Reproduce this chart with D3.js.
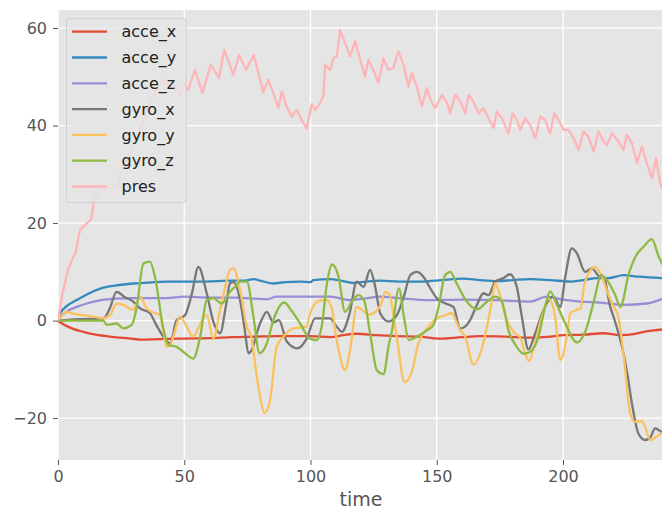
<!DOCTYPE html>
<html><head><meta charset="utf-8">
<script src="https://cdn.jsdelivr.net/npm/d3@7"></script>
<style>body{margin:0;background:#fff}svg{display:block;font-family:"DejaVu Sans",sans-serif}</style>
</head><body><svg id="c" width="662" height="512"></svg>
<script>
const seriesNames = ["acce_x","acce_y","acce_z","gyro_x","gyro_y","gyro_z","pres"];
const seriesColors = ["#E24A33","#348ABD","#988ED5","#777777","#FBC15E","#8EBA42","#FFB5B8"];
const xTicks = [0,50,100,150,200];
const yTicks = [-20,0,20,40,60];
const xLabel = "time";

const acceX = [[0,-0.1],[3,-1],[6,-1.7],[10,-2.3],[15,-2.9],[20.6,-3.3],[27,-3.6],[32.5,-3.9],[40,-3.8],[49.6,-3.7],[60,-3.6],[69,-3.4],[78,-3.3],[86.6,-3.2],[100,-3.2],[107.8,-3.4],[113,-3],[118.3,-2.7],[126,-3],[134,-3.2],[143,-3.3],[151.3,-3.7],[160,-3.4],[167,-3.2],[177,-3.3],[187,-3.5],[195,-3.3],[200.2,-3],[208,-2.9],[216,-2.6],[222.7,-3],[228,-2.8],[232,-2.3],[236,-2],[240,-1.8]];
const acceY = [[0,1],[2,2.3],[4,3.2],[7.4,4.2],[12,5.5],[17,6.6],[23,7.2],[29.8,7.6],[36,7.8],[43,8],[56.3,8],[69.5,8.2],[74,8.2],[77.4,8.5],[80,8.2],[85.3,7.6],[90,7.9],[95.9,8],[100,7.9],[101.2,8.3],[107.8,8.5],[112,8.2],[117,7.7],[122,8],[127.6,8.2],[135,8],[144.7,8],[152,8.3],[160.6,8.6],[167,8.3],[173.8,8.1],[180,8.3],[187,8.5],[195,8.3],[202.9,8],[208,8.3],[213.4,8.7],[218,8.7],[224,9.3],[230,9],[240,8.7]];
const acceZ = [[0,0.5],[2,1.3],[4,2],[7.4,2.8],[12,3.6],[17,4.2],[23,4.5],[29.8,4.6],[43,4.6],[50,4.9],[60,4.7],[70,4.7],[78,4.5],[82.7,4.35],[86.6,4.9],[100,4.9],[107.8,4.9],[115.7,4.2],[121,4.5],[127.6,4.9],[135,4.6],[147.4,4.2],[160,4.3],[173.8,4.2],[187,3.9],[193.6,4.9],[200,4.3],[206.8,3.9],[215,3.7],[224,3.2],[233,3.5],[240,4.6]];
const gyroX = [[0,0],[5,0.2],[10,0.3],[18,0.45],[20.5,2.5],[23.2,5.9],[26.5,4.8],[29.8,3.9],[32.5,2.5],[36.4,1.5],[39,-1],[41.7,-3.3],[44.4,-4.7],[47,0.1],[50.3,1.1],[53,5.5],[55.6,11],[58.9,5.6],[61.5,-0.2],[64.2,-2.6],[66.5,3],[68.1,7.6],[69.5,7.9],[72.1,4.2],[74,-2],[75.4,-6.7],[76.8,-6],[78.7,-2.6],[80.5,0],[82.7,1.8],[85.3,-0.4],[87.5,0.1],[90.6,-4.3],[94.8,-5.7],[98.5,-3.7],[101.8,0.45],[107.8,0.45],[110,-1],[112.5,-2.3],[115.5,1.5],[118.3,8],[121,6.9],[123.6,10.4],[125.6,7],[127.6,1.5],[130.9,-0.2],[134.1,1],[137,5],[139.5,9.3],[142.1,10],[144.7,9],[147,7],[150,4.6],[153.5,3.5],[156.6,2.8],[159.3,-1.6],[161.9,-0.9],[163.2,0.1],[165.9,3.2],[168.5,5.6],[170.5,5.2],[173.1,8],[176.4,8.7],[179,9.5],[181.7,6.9],[183.7,0.8],[186.3,-5.9],[189,-2.6],[192.3,2.2],[196.2,4.9],[198.9,2.8],[200.9,9],[203.5,14.8],[205.5,13.8],[208.8,10],[211.4,10.7],[214.7,9],[216,9],[218.7,2.8],[220,0.8],[223.5,-5.7],[225.5,-11],[227.3,-17],[229.9,-23.2],[232.5,-24.5],[234.5,-24],[236.5,-22.1],[238,-22.5],[240,-23.2]];
const gyroY = [[0,0],[2,1.2],[3.4,1.8],[6,1.4],[10,1.1],[14,0.8],[18,0.45],[20.6,1.1],[23.2,3.5],[25.9,3.2],[29.8,2.2],[32.5,4.9],[35.1,2.5],[38,1.6],[40.4,1.1],[42,-3],[43,-5.4],[44.5,-5],[45.7,-3.3],[48.3,0.8],[51,-1.3],[53.6,-3.3],[56,-1],[58.9,1.1],[61.5,-3.7],[64.2,2.2],[66.5,7.5],[68.1,10.4],[69.5,10.7],[72.1,6.3],[74.8,-1.3],[76.7,-3.7],[78.7,-11.5],[80,-15.5],[81.8,-19],[84,-16.3],[86.6,-5.4],[89.3,-3.3],[93.2,-1.6],[98.5,-1.3],[99.5,0.8],[101.8,3.5],[104.4,4.2],[106.5,4.2],[108.4,2.5],[110.4,-4],[113.7,-10.2],[115.7,-6],[118.3,2.8],[120.3,2.2],[123.3,1.2],[127.6,3],[129.6,5.9],[131.2,5.4],[134.1,-3.3],[137.3,-12.6],[140.1,-10.5],[142.7,-4.7],[146.1,-1.6],[150,0.45],[153.3,1.1],[156,1.5],[158,-0.5],[159.3,-2],[161.3,-3.3],[164.5,-9],[168.5,-4.5],[171.5,3],[173.1,7.6],[174.4,6.3],[177.8,0.1],[180.4,-2.3],[183,-3.5],[185,-6.7],[186.5,-8.3],[188.9,-4.7],[191.6,0.8],[194.3,4.5],[196.9,0.8],[198.9,-8.1],[201.5,-3.3],[202.9,1.5],[205.5,2.2],[207,2.5],[208.5,7.6],[212.8,11],[215,9.5],[217.5,6],[219.4,3.5],[222,0.5],[224.3,-8.4],[226.6,-19],[228.6,-20.8],[231.3,-20.6],[234.7,-24.5],[236.7,-23.9],[240,-22.8]];
const gyroZ = [[0,0],[18,0],[19.3,-0.9],[23.2,-0.6],[25.9,-1.6],[29.2,-0.9],[31.2,2.8],[33.8,11.7],[36.4,12.1],[38.4,9],[41.7,-1.6],[43.7,-5],[47,-5.4],[50.3,-6.7],[53.6,-7.8],[56.3,-3.3],[58.9,4.2],[61.5,4.6],[64.9,3.5],[68.1,5.9],[70.1,6.9],[72.1,8],[74.8,8],[77.4,0.8],[79.8,-6.7],[82.7,-4.7],[85.3,0.1],[89.6,3.7],[92.5,2],[95.9,-0.6],[99.8,-3.7],[102.5,-4],[104.4,-1.3],[106.5,7.6],[108.5,11.5],[111.1,9],[113.7,1.8],[116.4,3.9],[119,5.2],[121.3,4],[123.6,-2.6],[126.3,-10.2],[128.9,-11],[131,-5],[132.3,-2],[135,6.6],[137,0.8],[138.9,-4],[142.1,-3.3],[146.1,-2],[148.7,-0.9],[150.7,2.8],[153.3,9.3],[155.3,10],[157.9,7.6],[161.9,3.9],[165.9,2.3],[169.8,3.8],[173.1,4.9],[175.8,3.9],[178.4,-2],[181.7,-5.4],[184.4,-6.8],[187,-6.4],[190.3,-3.3],[192.9,2.8],[194.9,6],[197.6,3.2],[200.9,-0.6],[205.5,-4.5],[208.8,-2.3],[212.8,5.2],[215,9.3],[217.4,8.3],[220.7,5.2],[222.7,2.8],[226.1,9.7],[228.7,13.1],[232,15.2],[235.2,16.7],[237.9,13.1],[240,11]];
const pres = [[0,0],[2,6],[4,10.5],[5.5,12.4],[7,14],[8.7,18.6],[10.5,19.5],[12.5,20.5],[13.3,21],[14.4,25.4],[16,26.2],[17.5,26.8],[20.6,27.2],[23.8,27.5],[25.2,31.6],[27.5,33],[30.5,36.4],[33,40],[35.5,43.5],[38.4,46.7],[40.5,48.6],[42.4,49.4],[44.5,47.5],[46.4,48],[48.3,46.3],[50,48.5],[51.6,47.3],[54.2,51.4],[57.2,46.7],[60.5,52.5],[63.8,49.8],[65.8,55.5],[69.4,50.4],[71.8,54.5],[74.5,51.4],[77.5,54.5],[80.7,48],[81.3,46.8],[83.3,49.4],[85.3,46.6],[87.3,43.6],[88.6,47],[90.6,43.9],[92.6,41.8],[94.5,43.2],[96.5,41.2],[98.5,39.3],[100.5,44.4],[101.8,43.2],[103.8,44.6],[105.1,46],[105.8,52.5],[107.8,51.4],[109.1,53.8],[110.4,54.2],[111.7,59.6],[113.7,56.9],[115.7,54.2],[117.7,57.3],[119.7,53.5],[121.6,50],[122.9,53.5],[124.9,51.4],[126.9,48.7],[128.9,53.8],[130.9,51.4],[132.8,51.8],[134.8,55.2],[136.8,52.5],[138.8,48],[140.1,50.8],[142.1,48],[144.1,43.9],[146.1,47.7],[147.5,45.3],[149.4,43.6],[152.1,46.3],[154.1,44.6],[155.3,42.5],[157.3,46.3],[159.3,45],[161.3,42.5],[162.6,46.3],[164.5,44.9],[166.5,42.5],[168.5,43.6],[170.5,41.5],[172.5,39.5],[173.8,42.9],[175.8,41.5],[178.4,38.4],[180,42.5],[181.7,41.2],[183,39.1],[185,41.5],[187,40.1],[189,37.4],[191,41.8],[192.9,41.2],[194.9,38.4],[196.6,42.5],[198.2,41.2],[200.2,39.1],[202.2,39.1],[204.2,37.4],[206.2,35],[208.1,38.8],[210.1,37.7],[212.1,34.7],[214.1,38.8],[216.1,36.7],[217.4,36],[219.4,38.4],[222,36.7],[224,35],[225.3,38.1],[227.3,36.4],[229.3,32.3],[231.3,35.7],[233.2,32.3],[235.2,29.2],[236.9,33.3],[238.5,28],[240,26.5]];

const seriesData = [acceX, acceY, acceZ, gyroX, gyroY, gyroZ, pres];

const L = 58, R = 664, T = 10, B = 460;
const x = d3.scaleLinear().domain([0, 240]).range([L, R]);
const y = d3.scaleLinear().domain([-28.6, 63.7]).range([B, T]);
const svg = d3.select("#c");

svg.append("defs").append("clipPath").attr("id","clip")
  .append("rect").attr("x",L).attr("y",T).attr("width",R-L).attr("height",B-T);

svg.append("rect").attr("x",L).attr("y",T).attr("width",R-L).attr("height",B-T).attr("fill","#E5E5E5");

svg.append("g").selectAll("line").data(xTicks).join("line")
  .attr("x1",d=>x(d)).attr("x2",d=>x(d)).attr("y1",T).attr("y2",B)
  .attr("stroke","#fff").attr("stroke-width",1.3);
svg.append("g").selectAll("line").data(yTicks).join("line")
  .attr("x1",L).attr("x2",R).attr("y1",d=>y(d)).attr("y2",d=>y(d))
  .attr("stroke","#fff").attr("stroke-width",1.3);

const xAxis = svg.append("g").attr("transform",`translate(0,${B})`)
  .call(d3.axisBottom(x).tickValues(xTicks).tickFormat(d3.format("d")).tickSize(5).tickPadding(6));
const yAxis = svg.append("g").attr("transform",`translate(${L},0)`)
  .call(d3.axisLeft(y).tickValues(yTicks).tickFormat(d => d < 0 ? "\u2212" + Math.abs(d) : String(d)).tickSize(5).tickPadding(6));
[xAxis, yAxis].forEach(a => {
  a.select(".domain").remove();
  a.selectAll(".tick line").attr("stroke","#555").attr("stroke-width",1);
  a.selectAll(".tick text").attr("fill","#555").style("font-size","16px").style("font-family","DejaVu Sans");
});

svg.append("text").attr("x",(L+R)/2).attr("y",506).attr("text-anchor","middle")
  .attr("fill","#555").style("font-size","19px").text(xLabel);

const plot = svg.append("g").attr("clip-path","url(#clip)");
seriesData.forEach((data, i) => {
  const line = d3.line().x(d=>x(d[0])).y(d=>y(d[1]))
    .curve(seriesNames[i] === "pres" ? d3.curveLinear : d3.curveMonotoneX);
  plot.append("path").datum(data).attr("d", line)
    .attr("fill","none").attr("stroke",seriesColors[i]).attr("stroke-width",2.3)
    .attr("stroke-linejoin","round");
});

const lg = svg.append("g");
lg.append("rect").attr("x",66.5).attr("y",18.5).attr("width",119.5).attr("height",184).attr("rx",3)
  .attr("fill","#E5E5E5").attr("fill-opacity",0.8).attr("stroke","#d0d0d0").attr("stroke-width",1);
seriesNames.forEach((n,i) => {
  const yy = 31.7 + i*25.8;
  lg.append("line").attr("x1",72).attr("x2",107).attr("y1",yy).attr("y2",yy)
    .attr("stroke",seriesColors[i]).attr("stroke-width",2.3);
  lg.append("text").attr("x",121.5).attr("y",yy).attr("dy","0.35em")
    .attr("fill","#222").style("font-size","16px").text(n);
});
</script></body></html>
